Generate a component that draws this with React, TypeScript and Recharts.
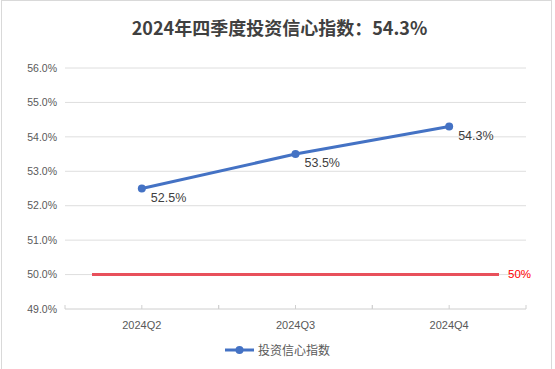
import React from 'react';
import { LineChart, Line, XAxis, YAxis, CartesianGrid, ReferenceLine, Legend } from 'recharts';

const categories = ['2024Q2', '2024Q3', '2024Q4'];
const confidenceValues = [52.5, 53.5, 54.3];
const yTicks = [49, 50, 51, 52, 53, 54, 55, 56];
const threshold = 50;
const seriesName = '投资信心指数';
const title = '2024年四季度投资信心指数：54.3%';

const data = categories.map((c, i) => ({ name: c, value: confidenceValues[i] }));

const BLUE = '#4472C4';
const RED = '#E8505B';
const GRID = '#DEDEDE';
const TEXT = '#595959';
const FONT = '"Liberation Sans", Arial, sans-serif';
const CJK = '"Noto Sans CJK SC", "Noto Sans", sans-serif';

const CategoryTick = (props: any) => {
  const { x, y, payload } = props;
  const off = payload && typeof payload.offset === 'number' ? payload.offset : 0;
  const xs = [x - off, x, x + off];
  return (
    <g>
      {xs.map((tx, i) => (
        <line key={i} x1={tx} x2={tx} y1={y - 4} y2={y} stroke="#D0D0D0" strokeWidth={1} />
      ))}
      <text x={x} y={y + 12} dy="0.71em" textAnchor="middle" fill={TEXT} fontSize={11} fontFamily={FONT}>
        {payload.value}
      </text>
    </g>
  );
};

const PointLabel = (props: any) => {
  const { x, y, value } = props;
  return (
    <text x={x + 9} y={y + 9} textAnchor="start" dominantBaseline="central" fill="#404040" fontSize={12.5} fontFamily={FONT}>
      {value.toFixed(1)}%
    </text>
  );
};

const ThresholdShape = (props: any) => {
  const { x1, x2, y1 } = props;
  const inset = 27;
  const a = Math.min(x1, x2) + inset;
  const b = Math.max(x1, x2) - inset;
  return (
    <g>
      <line x1={a} x2={b} y1={y1} y2={y1} stroke={RED} strokeWidth={3} />
      <text x={b + 9} y={y1 - 1} textAnchor="start" dominantBaseline="central" fill="#FF0000" fontSize={11.5} fontFamily={FONT}>
        {threshold}%
      </text>
    </g>
  );
};

const LegendContent = () => (
  <div style={{ display: 'flex', justifyContent: 'center', alignItems: 'center', width: '100%' }}>
    <svg width={29} height={10} style={{ marginRight: 4 }}>
      <line x1={0} x2={29} y1={5} y2={5} stroke={BLUE} strokeWidth={3} />
      <circle cx={14.5} cy={5} r={4} fill={BLUE} />
    </svg>
    <span style={{ fontFamily: CJK, fontSize: 12, color: TEXT }}>{seriesName}</span>
  </div>
);

export default function App() {
  return (
    <div style={{ position: 'absolute', left: 0, top: 0, width: 555, height: 369, background: '#fff', overflow: 'hidden' }}>
      <div style={{ position: 'absolute', left: 1, top: 0, width: 551, height: 400, border: '1px solid #D9D9D9', boxSizing: 'border-box' }} />
      <div style={{ position: 'absolute', left: 0, top: 14, width: 559, textAlign: 'center', fontFamily: CJK, fontWeight: 700, fontSize: 18, color: '#404040', lineHeight: '26px' }}>
        {title}
      </div>
      <div style={{ position: 'absolute', left: 0, top: 0 }}>
        <LineChart width={555} height={369} data={data} margin={{ top: 68, right: 29, bottom: 30, left: 0 }}>
          <CartesianGrid vertical={false} stroke={GRID} strokeWidth={1} />
          <XAxis
            dataKey="name"
            scale="band"
            height={30}
            tickLine={false}
            axisLine={{ stroke: GRID, strokeWidth: 1 }}
            tickSize={0}
            tickMargin={0}
            tick={<CategoryTick />}
            interval={0}
          />
          <YAxis
            domain={[49, 56]}
            ticks={yTicks}
            width={65}
            axisLine={false}
            tickLine={false}
            tickSize={0}
            tickMargin={8}
            tick={{ fill: TEXT, fontSize: 10.5, fontFamily: FONT }}
            tickFormatter={(v: number) => `${v.toFixed(1)}%`}
            interval={0}
          />
          <ReferenceLine y={threshold} shape={<ThresholdShape />} ifOverflow="visible" />
          <Line
            type="linear"
            dataKey="value"
            name={seriesName}
            stroke={BLUE}
            strokeWidth={3}
            dot={{ r: 4, fill: BLUE, stroke: BLUE, strokeWidth: 0 }}
            activeDot={false}
            isAnimationActive={false}
            label={<PointLabel />}
          />
          <Legend verticalAlign="middle" content={<LegendContent />} wrapperStyle={{ top: 341, left: 0, width: 555, height: 18 }} />
        </LineChart>
      </div>
    </div>
  );
}
